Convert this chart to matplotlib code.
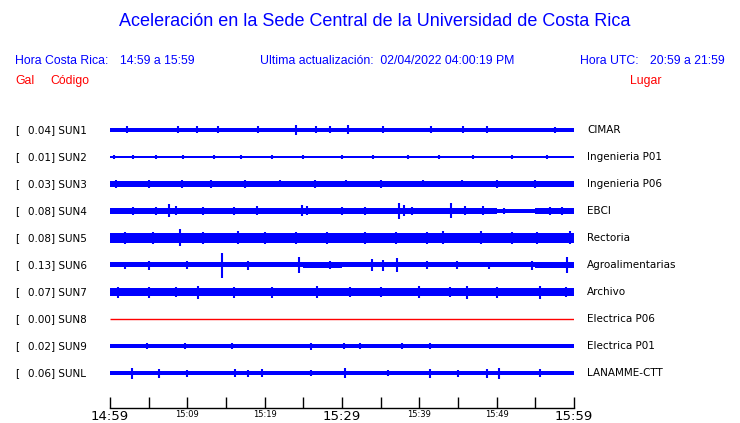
import numpy as np
import matplotlib
matplotlib.use("Agg")
import matplotlib.pyplot as plt

W, H = 740, 423

codes = ["SUN1", "SUN2", "SUN3", "SUN4", "SUN5", "SUN6", "SUN7", "SUN8", "SUN9", "SUNL"]
gals = [0.04, 0.01, 0.03, 0.08, 0.08, 0.13, 0.07, 0.00, 0.02, 0.06]
places = ["CIMAR", "Ingenieria P01", "Ingenieria P06", "EBCI", "Rectoria",
          "Agroalimentarias", "Archivo", "Electrica P06", "Electrica P01", "LANAMME-CTT"]

# envelope half-height (pixels) in 5-minute blocks
env = [
    [2.0, 2.0, 2.0, 2.0, 2.0, 2.0, 2.0, 2.0, 2.0, 2.0, 2.0, 2.2],
    [1.3, 1.3, 1.3, 1.3, 1.3, 1.3, 1.3, 1.3, 1.3, 1.3, 1.3, 1.3],
    [3.0, 3.0, 3.0, 3.0, 3.0, 3.0, 3.0, 3.0, 3.0, 3.0, 3.0, 3.0],
    [2.7, 2.8, 2.8, 2.7, 2.8, 2.8, 2.7, 2.8, 2.8, 2.8, 2.0, 2.8],
    [4.6, 4.6, 4.6, 4.6, 4.6, 4.6, 4.6, 4.6, 4.6, 4.6, 4.6, 4.6],
    [2.5, 2.5, 2.5, 2.5, 2.5, 3.0, 2.5, 2.5, 2.5, 2.5, 2.5, 2.8],
    [4.1, 4.1, 4.1, 4.1, 4.1, 4.1, 4.1, 4.1, 4.1, 4.1, 4.1, 4.1],
    [0.0] * 12,
    [2.2, 2.2, 2.2, 2.2, 2.2, 2.2, 2.2, 2.2, 2.2, 2.2, 2.2, 2.2],
    [2.1, 2.1, 2.1, 2.1, 2.1, 2.1, 2.1, 2.1, 2.1, 2.1, 2.1, 2.1],
]

# spikes: (minute, half-height in pixels)
spikes = [
    [(2.2, 3.5), (8.8, 3.5), (11.2, 3.5), (14, 3.5), (19.1, 3.5), (24.1, 5), (26.7, 3.5),
     (28.5, 3.5), (30.8, 4.5), (35.3, 3.5), (41.5, 3.5), (45.6, 3.5), (48.7, 3.5), (57.5, 3)],
    [(0.5, 2), (3, 2), (6, 2), (9.5, 2), (13.5, 2), (17, 2), (21, 2), (25, 2),
     (30, 2), (34, 2), (38.5, 2), (42.5, 2), (47, 2), (52, 2), (56.5, 2)],
    [(0.8, 3.6), (5, 3.6), (9.3, 4.2), (13, 3.6), (17.5, 3.6), (22, 3.5), (26.5, 3.6),
     (30.5, 3.5), (35, 3.6), (40.5, 3.5), (45.5, 3.5), (50, 3.6), (55, 3.6)],
    [(3, 3.6), (6, 4), (7.6, 6.5), (8.5, 4.5), (12, 4), (16, 3.6), (19, 4.5), (24.8, 5.5),
     (25.5, 4.5), (30, 3.6), (33, 4), (37.4, 8), (38, 5.5), (39, 4), (44.1, 7.5), (45.9, 4.5),
     (48.2, 4.5), (51, 3), (56.9, 4), (58.5, 3.6)],
    [(2, 5.6), (5.6, 6), (9, 8.5), (12, 5.6), (16.6, 6.5), (20, 5.6), (24, 6), (28, 5.6),
     (33, 5.6), (37, 5.8), (41, 5.6), (43, 6.5), (48, 6.5), (52, 5.6), (55.2, 6), (59.5, 6.5)],
    [(2, 3.5), (5, 4.5), (10, 4), (14.5, 12.5), (17.8, 4.5), (24.4, 8), (28.5, 3.6),
     (33.9, 6), (35.3, 5.5), (37.1, 7), (41, 3.6), (44.9, 4), (49, 3.5), (54.6, 4.5), (59.1, 8)],
    [(1, 5.5), (5, 5.5), (8.5, 5.2), (11.4, 6.5), (16, 5.5), (21, 5.5), (26.8, 6), (31, 5.2),
     (35, 5.2), (40, 6), (44, 5.2), (46.2, 6.5), (50, 5.5), (55.6, 6.5), (59, 5.2)],
    [],
    [(4.8, 2.8), (9.7, 2.8), (15.8, 2.8), (26, 3.5), (30.2, 3), (32.3, 3), (37.8, 2.8), (41.4, 3)],
    [(2.8, 5.5), (6.3, 4.5), (10, 3.5), (16.2, 4), (17.8, 3.5), (19.7, 4), (26, 3.2),
     (30.4, 5), (36, 3), (41.4, 4.5), (45, 3.5), (48.7, 4.5), (50.3, 5.5), (55.6, 4)],
]

tick_minutes = list(range(0, 61, 5))
major_labels = {0: "14:59", 30: "15:29", 60: "15:59"}
minor_labels = {10: "15:09", 20: "15:19", 40: "15:39", 50: "15:49"}

blue = "#0000ff"
red = "#ff0000"

fig = plt.figure(figsize=(W / 100, H / 100), dpi=100)

x0, x1 = 110, 574
ytop, ybot = 115, 408
ax = fig.add_axes([x0 / W, 1 - ybot / H, (x1 - x0) / W, (ybot - ytop) / H])
sp = 27.0
ax.set_xlim(0, 60)
ax.set_ylim((ybot - 130) / sp, (ytop - 130) / sp)

edges = np.arange(0, 61, 5)
for i in range(len(codes)):
    if codes[i] == "SUN8":
        ax.hlines(i, 0, 60, color=red, lw=1.0)
        continue
    h = np.array(env[i] + [env[i][-1]]) / sp
    ax.fill_between(edges, i - h, i + h, step="post", color=blue, lw=0)
    for t, a in spikes[i]:
        ax.vlines(t, i - a / sp, i + a / sp, color=blue, lw=1.5)

for s in ["left", "right", "top"]:
    ax.spines[s].set_visible(False)
ax.spines["bottom"].set_linewidth(1.0)
ax.set_yticks([])
ax.set_xticks(list(major_labels.keys()))
ax.set_xticklabels(list(major_labels.values()), fontsize=9.5)
minor = [m for m in tick_minutes if m not in major_labels]
ax.set_xticks(minor, minor=True)
ax.set_xticklabels([minor_labels.get(m, "") for m in minor], minor=True, fontsize=6)
ax.tick_params(axis="x", which="both", direction="in", length=8, width=1, pad=1.5)

def ftxt(x, y, s, **kw):
    fig.text(x / W, 1 - y / H, s, **kw)

hdr = dict(family="Liberation Sans", fontsize=8.8, color=blue, va="center")
ftxt(375, 22, "Aceleración en la Sede Central de la Universidad de Costa Rica",
     family="Liberation Sans", fontsize=13, color=blue, ha="center", va="center")
ftxt(15, 61, "Hora Costa Rica:", **hdr)
ftxt(120, 61, "14:59 a 15:59", **hdr)
ftxt(260, 61, "Ultima actualización:  02/04/2022 04:00:19 PM", **hdr)
ftxt(580, 61, "Hora UTC:", **hdr)
ftxt(650, 61, "20:59 a 21:59", **hdr)
red_hdr = dict(hdr, color=red)
ftxt(15, 81, "Gal", **red_hdr)
ftxt(50, 81, "Código", **red_hdr)
ftxt(630, 81, "Lugar", **red_hdr)

lab = dict(family="DejaVu Sans", fontsize=7.5, color="black", va="center")
for i in range(len(codes)):
    y = 130 + i * sp
    ftxt(15, y, "[", **lab)
    ftxt(28, y, f"{gals[i]:.2f}] {codes[i]}", **lab)
    ftxt(587, y, places[i], **lab)

fig.savefig("out.png", dpi=100)
